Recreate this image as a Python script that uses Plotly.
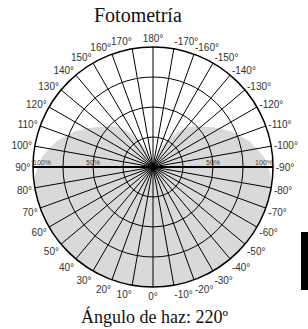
import plotly.graph_objects as go

# ---- data ----
title_text = "Fotometría"
footer_text = "Ángulo de haz: 220º"

angle_ticks = [0, 10, 20, 30, 40, 50, 60, 70, 80, 90, 100, 110, 120, 130, 140, 150, 160, 170,
               180, 190, 200, 210, 220, 230, 240, 250, 260, 270, 280, 290, 300, 310, 320, 330, 340, 350]
angle_labels = ["0°", "10°", "20°", "30°", "40°", "50°", "60°", "70°", "80°", "90°",
                "100°", "110°", "120°", "130°", "140°", "150°", "160°", "170°", "180°",
                "-170°", "-160°", "-150°", "-140°", "-130°", "-120°", "-110°", "-100°", "-90°",
                "-80°", "-70°", "-60°", "-50°", "-40°", "-30°", "-20°", "-10°"]
radial_ticks = [25, 50, 75, 100]

left_label_r = [100, 50]
left_label_theta = [90, 90]
left_label_text = ["100%", "50%"]
right_label_r = [50, 100]
right_label_theta = [-90, -90]
right_label_text = ["50%", "100%"]

beam_theta = [170, 165, 160, 155, 150, 145, 140, 135, 130, 125, 120, 115, 110, 105, 100, 95, 90, 85,
              80, 70, 60, 50, 40, 30, 20, 10, 0, -10, -20, -30, -40, -50, -60, -70, -80,
              -85, -90, -95, -100, -105, -110, -115, -120, -125, -130, -135, -140, -145, -150,
              -155, -160, -165, -170]
beam_r = [0, 5, 12, 20, 28, 35, 43, 48, 52, 58, 64, 71, 77, 83, 88, 93, 96, 99,
          100, 100, 100, 100, 100, 100, 100, 100, 100, 100, 100, 100, 100, 100, 100, 100, 100,
          99, 96, 93, 88, 83, 77, 71, 64, 58, 52, 48, 43, 35, 28, 20, 12, 5, 0]

W, H = 308, 329
cx, cy, rad = 153, 167, 120
dom_x = [(cx - rad) / W, (cx + rad) / W]
dom_y = [(H - cy - rad) / H, (H - cy + rad) / H]

fig = go.Figure()
fig.add_trace(go.Scatterpolar(
    r=beam_r, theta=beam_theta, mode="lines", fill="toself",
    fillcolor="rgba(0,0,0,0.15)", line=dict(width=0, color="rgba(0,0,0,0)"),
    hoverinfo="skip", showlegend=False, subplot="polar"))
fig.add_trace(go.Scatterpolar(
    r=left_label_r, theta=left_label_theta, mode="text", text=left_label_text,
    textposition=["top right", "top center"],
    textfont=dict(size=7, color="#444", family="Liberation Sans, Arial"),
    hoverinfo="skip", showlegend=False, subplot="polar"))
fig.add_trace(go.Scatterpolar(
    r=right_label_r, theta=right_label_theta, mode="text", text=right_label_text,
    textposition=["top center", "top left"],
    textfont=dict(size=7, color="#444", family="Liberation Sans, Arial"),
    hoverinfo="skip", showlegend=False, subplot="polar2"))

common_ang = dict(rotation=-90, direction="clockwise")
fig.update_layout(
    width=W, height=H,
    margin=dict(l=0, r=0, t=0, b=0),
    paper_bgcolor="white", plot_bgcolor="white",
    showlegend=False,
    polar=dict(
        domain=dict(x=dom_x, y=dom_y),
        bgcolor="white",
        angularaxis=dict(**common_ang, tickmode="array", tickvals=angle_ticks, ticktext=angle_labels,
                         showgrid=True, gridcolor="black", gridwidth=1,
                         showline=True, linecolor="black", linewidth=1.5,
                         ticks="", tickfont=dict(size=10, color="#333", family="Liberation Sans, Arial")),
        radialaxis=dict(range=[0, 100], tickmode="array", tickvals=radial_ticks,
                        showticklabels=False, ticks="", showgrid=True, gridcolor="black", gridwidth=1,
                        showline=True, linecolor="black", linewidth=2, angle=180),
    ),
    polar2=dict(
        domain=dict(x=dom_x, y=dom_y),
        bgcolor="rgba(0,0,0,0)",
        angularaxis=dict(**common_ang, visible=False, showgrid=False, showline=False),
        radialaxis=dict(range=[0, 100], showticklabels=False, ticks="", showgrid=False,
                        showline=True, linecolor="black", linewidth=2, angle=0),
    ),
    annotations=[
        dict(text=title_text, x=138 / W, y=1 - 15 / H, xref="paper", yref="paper",
             showarrow=False, xanchor="center", yanchor="middle",
             font=dict(size=20, color="#111", family="Liberation Serif, Times New Roman")),
        dict(text=footer_text, x=154 / W, y=1 - 316 / H, xref="paper", yref="paper",
             showarrow=False, xanchor="center", yanchor="middle",
             font=dict(size=18, color="#111", family="Liberation Serif, Times New Roman")),
    ],
    shapes=[dict(type="rect", xref="paper", yref="paper",
                 x0=301 / W, x1=1.0, y0=1 - 290 / H, y1=1 - 232 / H,
                 fillcolor="black", line=dict(width=0))],
)

fig.write_html("out.html", config={"displayModeBar": False},
               post_script="document.body.style.margin='0';document.body.style.overflow='hidden';")
